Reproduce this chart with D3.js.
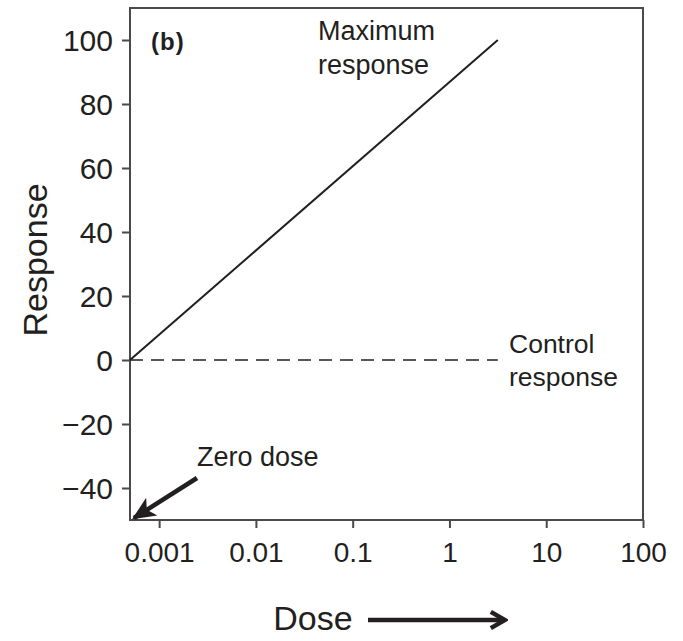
<!DOCTYPE html>
<html><head><meta charset="utf-8">
<script src="https://cdn.jsdelivr.net/npm/d3@7"></script>
<style>body{margin:0;background:#fff}svg{display:block}text{font-family:"Liberation Sans",Arial,sans-serif;fill:#231f20}</style>
</head><body><svg id="c" width="683" height="641"></svg>
<script>
// data
const xTicks = [0.001, 0.01, 0.1, 1, 10, 100];
const xTickLabels = ["0.001", "0.01", "0.1", "1", "10", "100"];
const yTicks = [-40, -20, 0, 20, 40, 60, 80, 100];
const yTickLabels = ["\u221240", "\u221220", "0", "20", "40", "60", "80", "100"];
const maxDose = [0.0005, 3.16];
const maxResponse = [0, 100];
const controlDose = [0.0005, 3.16];
const controlResponse = [0, 0];
const xDomain = [0.0005, 100];
const yDomain = [-50, 110];

const svg = d3.select("#c");
const L = 130, R = 643, T = 8, B = 520;
const x = d3.scaleLog().domain(xDomain).range([L, R]);
const y = d3.scaleLinear().domain(yDomain).range([B, T]);
const ink = "#231f20";

// frame
svg.append("rect").attr("x", L).attr("y", T).attr("width", R - L).attr("height", B - T)
  .attr("fill", "none").attr("stroke", "#4a4a4a").attr("stroke-width", 2);

// axes
const xAxis = d3.axisBottom(x).tickValues(xTicks).tickFormat((d, i) => xTickLabels[i]).tickSize(8).tickSizeOuter(0);
const gx = svg.append("g").attr("transform", `translate(0,${B})`).call(xAxis);
gx.select(".domain").remove();
gx.selectAll("line").attr("stroke", "#4a4a4a").attr("stroke-width", 2);
gx.selectAll("text").attr("font-size", 28).attr("y", 42).attr("dy", 0).attr("fill", ink);

const yAxis = d3.axisLeft(y).tickValues(yTicks).tickFormat((d, i) => yTickLabels[i]).tickSize(8).tickSizeOuter(0);
const gy = svg.append("g").attr("transform", `translate(${L},0)`).call(yAxis);
gy.select(".domain").remove();
gy.selectAll("line").attr("stroke", "#4a4a4a").attr("stroke-width", 2);
gy.selectAll("text").attr("font-size", 30).attr("x", -17).attr("dy", "0.36em").attr("fill", ink);

// lines
const line = d3.line().x(d => x(d[0])).y(d => y(d[1]));
svg.append("path").datum(maxDose.map((d, i) => [d, maxResponse[i]]))
  .attr("d", line).attr("fill", "none").attr("stroke", ink).attr("stroke-width", 2);
svg.append("path").datum(controlDose.map((d, i) => [d, controlResponse[i]]))
  .attr("d", line).attr("fill", "none").attr("stroke", ink).attr("stroke-width", 1.6)
  .attr("stroke-dasharray", "13,8");

// annotations
svg.append("text").attr("x", 151).attr("y", 50).attr("font-size", 24).attr("font-weight", "bold")
  .attr("letter-spacing", 1).text("(b)");
const mx = svg.append("text").attr("font-size", 27);
mx.append("tspan").attr("x", 318).attr("y", 40).text("Maximum");
mx.append("tspan").attr("x", 318).attr("y", 74).text("response");
const cr = svg.append("text").attr("font-size", 26.5);
cr.append("tspan").attr("x", 509).attr("y", 353).text("Control");
cr.append("tspan").attr("x", 509).attr("y", 386).text("response");
svg.append("text").attr("x", 197).attr("y", 466).attr("font-size", 27).text("Zero dose");

// arrow markers
const defs = svg.append("defs");
defs.append("marker").attr("id", "ah").attr("viewBox", "0 0 10 10").attr("refX", 8.5).attr("refY", 5)
  .attr("markerWidth", 4.5).attr("markerHeight", 4.5).attr("markerUnits", "strokeWidth").attr("orient", "auto")
  .append("path").attr("d", "M1.5,1 L8.5,5 L1.5,9").attr("fill", "none").attr("stroke", ink)
  .attr("stroke-width", 2.2).attr("stroke-linejoin", "miter");
defs.append("marker").attr("id", "ah2").attr("viewBox", "0 0 10 10").attr("refX", 9).attr("refY", 5)
  .attr("markerWidth", 5.2).attr("markerHeight", 5.2).attr("orient", "auto")
  .append("path").attr("d", "M0,0.5 L10,5 L0,9.5 L2.5,5 Z").attr("fill", ink);

svg.append("line").attr("x1", 197).attr("y1", 478).attr("x2", 134).attr("y2", 518)
  .attr("stroke", ink).attr("stroke-width", 4.5).attr("marker-end", "url(#ah2)");

// axis titles
svg.append("text").attr("transform", "translate(47,260) rotate(-90)").attr("text-anchor", "middle")
  .attr("font-size", 34).text("Response");
svg.append("text").attr("x", 313).attr("y", 630).attr("text-anchor", "middle").attr("font-size", 34).text("Dose");
svg.append("line").attr("x1", 368).attr("y1", 620).attr("x2", 505).attr("y2", 620)
  .attr("stroke", ink).attr("stroke-width", 4.5).attr("marker-end", "url(#ah)");
</script></body></html>
